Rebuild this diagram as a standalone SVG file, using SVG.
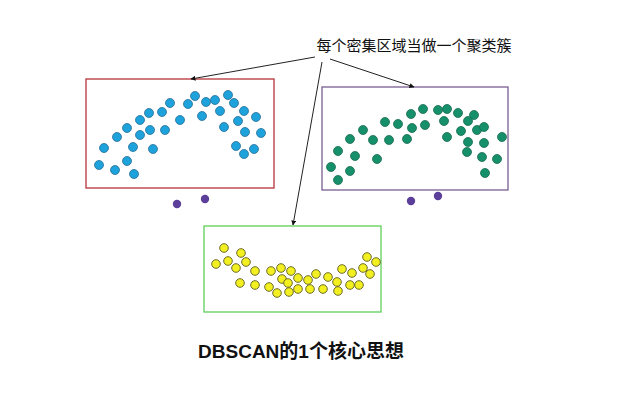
<svg xmlns="http://www.w3.org/2000/svg" width="644" height="403" viewBox="0 0 644 403">
<style>
.b{fill:#1ea2dc;stroke:#2a6f96;stroke-width:0.8}
.g{fill:#16906a;stroke:#1b6b4f;stroke-width:0.8}
.y{fill:#f2f021;stroke:#6e6a2a;stroke-width:1}
.p{fill:#5b3f9a}
.lbl{font-family:"Liberation Sans","Noto Sans CJK SC",sans-serif;fill:#111}
.conn{stroke:#222;stroke-width:1;fill:none;marker-end:url(#ah)}
</style>
<defs>
<marker id="ah" viewBox="0 0 10 10" refX="9" refY="5" markerWidth="5" markerHeight="5" orient="auto" markerUnits="userSpaceOnUse">
<path d="M0,0 L10,5 L0,10 z" fill="#111"/>
</marker>
</defs>
<rect width="644" height="403" fill="#fff"/>
<g id="label-top">
<text class="lbl" x="414" y="51" font-size="15" text-anchor="middle">每个密集区域当做一个聚类簇</text>
</g>
<g id="cluster-blue">
<rect x="86" y="79" width="188" height="109" fill="none" stroke="#b7343a" stroke-width="1.3"/>
<g>
<circle class="b" cx="195" cy="96" r="4.5"/><circle class="b" cx="228" cy="95" r="4.5"/>
<circle class="b" cx="206" cy="102" r="4.5"/><circle class="b" cx="215" cy="100" r="4.5"/>
<circle class="b" cx="170" cy="103" r="4.5"/><circle class="b" cx="188" cy="104" r="4.5"/>
<circle class="b" cx="234" cy="103" r="4.5"/><circle class="b" cx="149" cy="113" r="4.5"/>
<circle class="b" cx="162" cy="112" r="4.5"/><circle class="b" cx="220" cy="111" r="4.5"/>
<circle class="b" cx="244" cy="111" r="4.5"/><circle class="b" cx="140" cy="120" r="4.5"/>
<circle class="b" cx="180" cy="120" r="4.5"/><circle class="b" cx="202" cy="116" r="4.5"/>
<circle class="b" cx="238" cy="121" r="4.5"/><circle class="b" cx="256" cy="117" r="4.5"/>
<circle class="b" cx="127" cy="128" r="4.5"/><circle class="b" cx="150" cy="130" r="4.5"/>
<circle class="b" cx="165" cy="130" r="4.5"/><circle class="b" cx="140" cy="135" r="4.5"/>
<circle class="b" cx="224" cy="127" r="4.5"/><circle class="b" cx="245" cy="132" r="4.5"/>
<circle class="b" cx="261" cy="133" r="4.5"/><circle class="b" cx="117" cy="137" r="4.5"/>
<circle class="b" cx="104" cy="148" r="4.5"/><circle class="b" cx="133" cy="147" r="4.5"/>
<circle class="b" cx="153" cy="149" r="4.5"/><circle class="b" cx="236" cy="146" r="4.5"/>
<circle class="b" cx="254" cy="149" r="4.5"/><circle class="b" cx="244" cy="154" r="4.5"/>
<circle class="b" cx="127" cy="161" r="4.5"/><circle class="b" cx="99" cy="165" r="4.5"/>
<circle class="b" cx="115" cy="170" r="4.5"/><circle class="b" cx="134" cy="174" r="4.5"/>
</g>
</g>
<g id="cluster-green">
<rect x="322" y="87" width="186" height="103" fill="none" stroke="#7a5f92" stroke-width="1.3"/>
<g>
<circle class="g" cx="423" cy="109" r="4.5"/><circle class="g" cx="438" cy="110" r="4.5"/>
<circle class="g" cx="447" cy="109" r="4.5"/><circle class="g" cx="411" cy="114" r="4.5"/>
<circle class="g" cx="458" cy="113" r="4.5"/><circle class="g" cx="474" cy="115" r="4.5"/>
<circle class="g" cx="468" cy="121" r="4.5"/><circle class="g" cx="444" cy="121" r="4.5"/>
<circle class="g" cx="385" cy="122" r="4.5"/><circle class="g" cx="398" cy="124" r="4.5"/>
<circle class="g" cx="412" cy="128" r="4.5"/><circle class="g" cx="425" cy="125" r="4.5"/>
<circle class="g" cx="363" cy="130" r="4.5"/><circle class="g" cx="477" cy="130" r="4.5"/>
<circle class="g" cx="484" cy="127" r="4.5"/><circle class="g" cx="461" cy="131" r="4.5"/>
<circle class="g" cx="350" cy="139" r="4.5"/><circle class="g" cx="373" cy="140" r="4.5"/>
<circle class="g" cx="389" cy="140" r="4.5"/><circle class="g" cx="407" cy="139" r="4.5"/>
<circle class="g" cx="447" cy="137" r="4.5"/><circle class="g" cx="502" cy="137" r="4.5"/>
<circle class="g" cx="468" cy="142" r="4.5"/><circle class="g" cx="484" cy="143" r="4.5"/>
<circle class="g" cx="338" cy="151" r="4.5"/><circle class="g" cx="355" cy="156" r="4.5"/>
<circle class="g" cx="377" cy="159" r="4.5"/><circle class="g" cx="467" cy="152" r="4.5"/>
<circle class="g" cx="482" cy="157" r="4.5"/><circle class="g" cx="497" cy="159" r="4.5"/>
<circle class="g" cx="331" cy="167" r="4.5"/><circle class="g" cx="350" cy="171" r="4.5"/>
<circle class="g" cx="485" cy="173" r="4.5"/><circle class="g" cx="338" cy="180" r="4.5"/>
</g>
</g>
<g id="cluster-yellow">
<rect x="204" y="226" width="177" height="86" fill="none" stroke="#5fcf5a" stroke-width="1.3"/>
<g>
<circle class="y" cx="224" cy="248" r="4.3"/><circle class="y" cx="241" cy="253" r="4.3"/>
<circle class="y" cx="216" cy="264" r="4.3"/><circle class="y" cx="228" cy="261" r="4.3"/>
<circle class="y" cx="246" cy="262" r="4.3"/><circle class="y" cx="236" cy="268" r="4.3"/>
<circle class="y" cx="255" cy="271" r="4.3"/><circle class="y" cx="271" cy="271" r="4.3"/>
<circle class="y" cx="281" cy="268" r="4.3"/><circle class="y" cx="291" cy="271" r="4.3"/>
<circle class="y" cx="282" cy="279" r="4.3"/><circle class="y" cx="288" cy="283" r="4.3"/>
<circle class="y" cx="298" cy="278" r="4.3"/><circle class="y" cx="308" cy="280" r="4.3"/>
<circle class="y" cx="316" cy="274" r="4.3"/><circle class="y" cx="328" cy="277" r="4.3"/>
<circle class="y" cx="337" cy="282" r="4.3"/><circle class="y" cx="342" cy="269" r="4.3"/>
<circle class="y" cx="352" cy="273" r="4.3"/><circle class="y" cx="363" cy="268" r="4.3"/>
<circle class="y" cx="367" cy="257" r="4.3"/><circle class="y" cx="376" cy="262" r="4.3"/>
<circle class="y" cx="370" cy="274" r="4.3"/><circle class="y" cx="240" cy="283" r="4.3"/>
<circle class="y" cx="255" cy="285" r="4.3"/><circle class="y" cx="269" cy="287" r="4.3"/>
<circle class="y" cx="277" cy="293" r="4.3"/><circle class="y" cx="289" cy="292" r="4.3"/>
<circle class="y" cx="298" cy="289" r="4.3"/><circle class="y" cx="310" cy="289" r="4.3"/>
<circle class="y" cx="323" cy="289" r="4.3"/><circle class="y" cx="338" cy="291" r="4.3"/>
<circle class="y" cx="350" cy="285" r="4.3"/><circle class="y" cx="359" cy="285" r="4.3"/>
</g>
</g>
<g id="noise">
<circle class="p" cx="177" cy="204" r="4.2"/>
<circle class="p" cx="205" cy="199" r="4.2"/>
<circle class="p" cx="411" cy="201" r="4.2"/>
<circle class="p" cx="438" cy="196" r="4.2"/>
</g>
<g id="connectors">
<line class="conn" x1="315" y1="57" x2="191" y2="79"/>
<line class="conn" x1="322" y1="62" x2="293" y2="225"/>
<line class="conn" x1="330" y1="59" x2="414" y2="87"/>
</g>
<g id="title">
<text class="lbl" x="301" y="358" font-size="19" font-weight="bold" text-anchor="middle">DBSCAN的1个核心思想</text>
</g>
</svg>
